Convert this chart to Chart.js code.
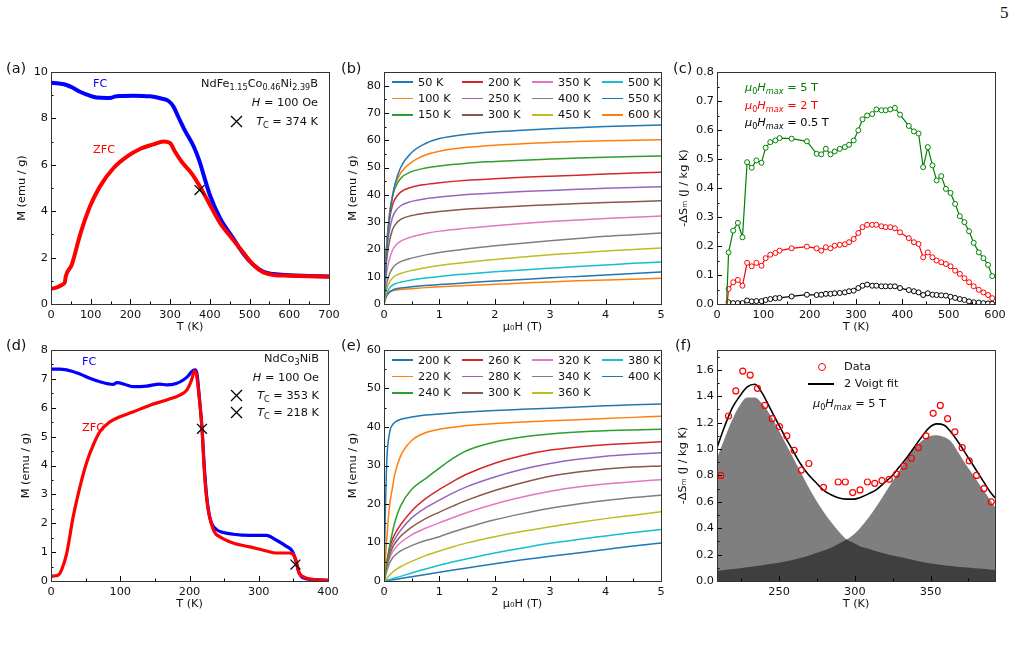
<!DOCTYPE html>
<html>
<head>
<meta charset="utf-8">
<script src="https://cdn.jsdelivr.net/npm/chart.js@4.4.1/dist/chart.umd.min.js"></script>
<style>
body { margin:0; background:#fff; width:1020px; height:650px; position:relative; overflow:hidden; font-family:'DejaVu Sans', sans-serif; color:#111; }
canvas { position:absolute; }
.t { position:absolute; font-size:11.3px; white-space:nowrap; line-height:1; transform:translateY(-50%); }
.r { text-align:right; }
.p { font-size:14.5px; }
sub { font-size:72%; vertical-align:-0.3em; line-height:0; }
.x { position:absolute; width:13px; height:13px; }
.leg { position:absolute; display:grid; grid-auto-flow:column; grid-template-rows:repeat(3,16.4px); grid-auto-columns:70px; font-size:11.3px; }
.li { display:flex; align-items:center; white-space:nowrap; }
.li span { display:inline-block; width:21px; height:1.6px; margin-right:5px; }
</style>
</head>
<body>
<canvas id="ca"></canvas><canvas id="cb"></canvas><canvas id="cc"></canvas>
<canvas id="cd"></canvas><canvas id="ce"></canvas><canvas id="cf"></canvas>

<div class="t" style="left:1000px;top:12px;font-family:'Liberation Serif',serif;font-size:17px">5</div>

<div class="t p" style="left:6px;top:68px">(a)</div>
<div class="t p" style="left:341px;top:68px">(b)</div>
<div class="t p" style="left:673px;top:68px">(c)</div>
<div class="t p" style="left:6px;top:345px">(d)</div>
<div class="t p" style="left:341px;top:345px">(e)</div>
<div class="t p" style="left:675px;top:345px">(f)</div>

<!-- (a) notes -->
<div class="t" style="left:93px;top:84px;color:blue">FC</div>
<div class="t" style="left:93px;top:150px;color:red">ZFC</div>
<div class="t r" style="right:702px;top:84px">NdFe<sub>1.15</sub>Co<sub>0.46</sub>Ni<sub>2.39</sub>B</div>
<div class="t r" style="right:702px;top:103px"><i>H</i> = 100 Oe</div>
<div class="t r" style="right:702px;top:122px"><i>T</i><sub>C</sub> = 374 K</div>
<svg class="x" style="left:230px;top:115px" viewBox="0 0 13 13"><path d="M1 1L12 12M12 1L1 12" stroke="#000" stroke-width="1.3"/></svg>

<!-- (c) notes -->
<div class="t" style="left:745px;top:88px;color:green"><i>μ</i><sub>0</sub><i>H</i><sub><i>max</i></sub> = 5 T</div>
<div class="t" style="left:745px;top:106px;color:red"><i>μ</i><sub>0</sub><i>H</i><sub><i>max</i></sub> = 2 T</div>
<div class="t" style="left:745px;top:123px;color:#000"><i>μ</i><sub>0</sub><i>H</i><sub><i>max</i></sub> = 0.5 T</div>

<!-- (d) notes -->
<div class="t" style="left:82px;top:362px;color:blue">FC</div>
<div class="t" style="left:82px;top:428px;color:red">ZFC</div>
<div class="t r" style="right:701px;top:359px">NdCo<sub>3</sub>NiB</div>
<div class="t r" style="right:701px;top:378px"><i>H</i> = 100 Oe</div>
<div class="t r" style="right:701px;top:396px"><i>T</i><sub>C</sub> = 353 K</div>
<div class="t r" style="right:701px;top:413px"><i>T</i><sub>C</sub> = 218 K</div>
<svg class="x" style="left:230px;top:389px" viewBox="0 0 13 13"><path d="M1 1L12 12M12 1L1 12" stroke="#000" stroke-width="1.3"/></svg>
<svg class="x" style="left:230px;top:406px" viewBox="0 0 13 13"><path d="M1 1L12 12M12 1L1 12" stroke="#000" stroke-width="1.3"/></svg>

<!-- (f) legend -->
<div style="position:absolute;left:818px;top:363px;width:6px;height:6px;border:1.3px solid red;border-radius:50%"></div>
<div class="t" style="left:844px;top:367px">Data</div>
<div style="position:absolute;left:808px;top:383px;width:26px;height:1.6px;background:#000"></div>
<div class="t" style="left:844px;top:384px">2 Voigt fit</div>
<div class="t" style="left:813px;top:404px"><i>μ</i><sub>0</sub><i>H</i><sub><i>max</i></sub> = 5 T</div>

<div class="leg" id="legb" style="left:392px;top:74px"></div>
<div class="leg" id="lege" style="left:392px;top:352px"></div>

<script>
// ---- (a) NdFe1.15Co0.46Ni2.39B, M(T) at 100 Oe
const aTempFC = [0, 20, 39, 55, 73, 98, 115, 140, 152, 162, 175, 207, 249, 275, 296, 308, 321, 338, 359, 374, 384, 400, 426, 459, 484, 510, 535, 560, 600, 650, 700];
const aMagFC = [9.54, 9.5, 9.44, 9.32, 9.15, 8.98, 8.9, 8.88, 8.89, 8.95, 8.97, 8.98, 8.95, 8.87, 8.75, 8.52, 8.05, 7.45, 6.8, 6.15, 5.58, 4.7, 3.69, 2.83, 2.18, 1.68, 1.39, 1.29, 1.24, 1.21, 1.18];
const aTempZFC = [0, 15, 27, 35, 37, 52, 73, 98, 123, 157, 191, 224, 258, 283, 300, 312, 329, 354, 375, 396, 426, 459, 489, 510, 535, 560, 600, 650, 700];
const aMagZFC = [0.65, 0.72, 0.82, 0.95, 1.18, 1.68, 2.97, 4.2, 5.06, 5.85, 6.35, 6.68, 6.88, 7.0, 6.93, 6.57, 6.13, 5.63, 5.06, 4.41, 3.48, 2.76, 2.11, 1.68, 1.36, 1.25, 1.22, 1.2, 1.17];
const aTcT = [374];
const aTcM = [4.91];
const aTicksX = [0, 100, 200, 300, 400, 500, 600, 700];
const aTicksY = [0, 2, 4, 6, 8, 10];

// ---- (b) M(H) isotherms
const bField = [0, 0.02, 0.05, 0.1, 0.15, 0.2, 0.3, 0.5, 0.75, 1, 1.5, 2, 2.5, 3, 3.5, 4, 4.5, 5];
const bLabels = ['50 K', '100 K', '150 K', '200 K', '250 K', '300 K', '350 K', '400 K', '450 K', '500 K', '550 K', '600 K'];
const b50 = [0, 8, 20, 32, 39, 44, 50, 55.5, 58.8, 60.6, 62.2, 63.1, 63.7, 64.2, 64.6, 65, 65.3, 65.6];
const b100 = [0, 9, 21, 33, 39.5, 43.5, 48, 52, 54.6, 56, 57.4, 58.2, 58.7, 59.2, 59.5, 59.8, 60, 60.2];
const b150 = [0, 10, 22, 33, 39, 42.5, 46, 48.5, 49.8, 50.6, 51.6, 52.2, 52.7, 53.1, 53.5, 53.8, 54, 54.2];
const b200 = [0, 10, 22, 31, 36, 38.5, 41, 42.8, 43.8, 44.4, 45.3, 45.9, 46.4, 46.8, 47.2, 47.6, 48, 48.3];
const b250 = [0, 9, 19.5, 27, 31.5, 33.8, 36, 37.6, 38.6, 39.2, 40.1, 40.7, 41.2, 41.6, 42, 42.4, 42.7, 43];
const b300 = [0, 8, 16.5, 23, 27, 29, 31, 32.4, 33.3, 33.9, 34.8, 35.4, 35.9, 36.4, 36.8, 37.2, 37.5, 37.8];
const b350 = [0, 5.5, 11.5, 16.5, 19.5, 21.2, 23, 24.6, 25.8, 26.7, 27.8, 28.7, 29.5, 30.2, 30.8, 31.3, 31.8, 32.2];
const b400 = [0, 3.5, 7.5, 11, 13, 14.2, 15.5, 16.8, 18, 18.9, 20.2, 21.3, 22.3, 23.2, 24, 24.8, 25.4, 26];
const b450 = [0, 2.5, 5.5, 8, 9.4, 10.3, 11.2, 12.3, 13.3, 14.1, 15.3, 16.3, 17.2, 18, 18.7, 19.4, 20, 20.5];
const b500 = [0, 2, 4, 5.8, 6.8, 7.4, 8, 8.8, 9.5, 10.1, 11, 11.8, 12.5, 13.1, 13.7, 14.3, 14.9, 15.4];
const b550 = [0, 1.5, 3.2, 4.5, 5.1, 5.5, 5.9, 6.3, 6.8, 7.1, 7.8, 8.4, 9, 9.6, 10.1, 10.6, 11.2, 11.7];
const b600 = [0, 1.4, 3, 4.2, 4.7, 5, 5.3, 5.6, 6, 6.3, 6.8, 7.2, 7.7, 8.1, 8.5, 8.8, 9.1, 9.4];
const bTicksX = [0, 1, 2, 3, 4, 5];
const bTicksY = [0, 10, 20, 30, 40, 50, 60, 70, 80];

// ---- (c) -dS_m(T) for three field changes
const cTemp = [20, 25, 35, 45, 55, 65, 75, 85, 96, 105, 115, 126, 135, 161, 194, 215, 225, 235, 245, 254, 265, 276, 285, 295, 305, 314, 324, 335, 344, 355, 364, 374, 384, 395, 414, 425, 435, 445, 455, 465, 474, 484, 494, 504, 514, 524, 534, 544, 554, 565, 575, 585, 594];
const cS5T = [-0.03, 0.178, 0.253, 0.28, 0.23, 0.489, 0.47, 0.495, 0.487, 0.539, 0.558, 0.564, 0.572, 0.570, 0.561, 0.518, 0.516, 0.535, 0.516, 0.526, 0.535, 0.541, 0.549, 0.564, 0.599, 0.637, 0.650, 0.655, 0.671, 0.668, 0.668, 0.671, 0.676, 0.653, 0.614, 0.595, 0.588, 0.472, 0.541, 0.478, 0.426, 0.441, 0.397, 0.383, 0.345, 0.303, 0.282, 0.251, 0.211, 0.178, 0.158, 0.135, 0.096];
const cS2T = [-0.03, 0.052, 0.075, 0.083, 0.063, 0.142, 0.13, 0.142, 0.132, 0.158, 0.170, 0.176, 0.184, 0.192, 0.198, 0.192, 0.184, 0.196, 0.192, 0.201, 0.204, 0.206, 0.213, 0.224, 0.245, 0.265, 0.273, 0.273, 0.273, 0.268, 0.265, 0.265, 0.261, 0.247, 0.227, 0.213, 0.207, 0.161, 0.178, 0.161, 0.150, 0.144, 0.138, 0.130, 0.115, 0.104, 0.089, 0.075, 0.061, 0.049, 0.040, 0.031, 0.020];
const cS05T = [-0.03, 0.006, 0.003, 0.003, 0.003, 0.012, 0.009, 0.010, 0.010, 0.014, 0.017, 0.020, 0.021, 0.026, 0.032, 0.031, 0.032, 0.035, 0.035, 0.037, 0.038, 0.040, 0.044, 0.046, 0.055, 0.063, 0.067, 0.063, 0.063, 0.061, 0.061, 0.061, 0.061, 0.055, 0.048, 0.044, 0.040, 0.031, 0.037, 0.032, 0.031, 0.030, 0.029, 0.025, 0.021, 0.017, 0.014, 0.009, 0.006, 0.005, 0.003, 0.002, 0.001];
const cTicksX = [0, 100, 200, 300, 400, 500, 600];
const cTicksY = [0, 0.1, 0.2, 0.3, 0.4, 0.5, 0.6, 0.7, 0.8];

// ---- (d) NdCo3NiB, M(T) at 100 Oe
const dTempFC = [0, 12, 22.6, 41.8, 56, 70.7, 90, 95, 109, 119, 138, 157, 167, 181, 191, 198, 203, 208, 211, 214, 218, 221, 224.5, 228, 232, 239, 249, 263, 287, 311, 325, 340, 348, 353, 358, 365, 380, 400];
const dMagFC = [7.34, 7.34, 7.31, 7.17, 7.02, 6.90, 6.81, 6.87, 6.79, 6.73, 6.75, 6.82, 6.79, 6.84, 6.96, 7.10, 7.25, 7.31, 7.15, 6.4, 5.3, 4.1, 3.0, 2.35, 2.0, 1.78, 1.68, 1.62, 1.58, 1.58, 1.42, 1.2, 1.05, 0.75, 0.3, 0.1, 0.05, 0.02];
const dTempZFC = [0, 5, 10, 15, 22.6, 32, 41.8, 51, 61, 70.7, 85, 99.5, 119, 143, 167, 186, 196, 203, 207, 210, 214, 218.3, 220.7, 224.5, 229, 236, 244, 263, 287, 311, 325, 345, 351, 355, 358, 364, 376, 400];
const dMagZFC = [0.16, 0.18, 0.2, 0.37, 0.95, 2.22, 3.26, 4.07, 4.71, 5.17, 5.51, 5.69, 5.86, 6.09, 6.27, 6.44, 6.61, 6.96, 7.27, 7.15, 6.38, 5.23, 4.07, 2.91, 2.22, 1.7, 1.53, 1.32, 1.18, 1.04, 0.97, 0.97, 0.88, 0.6, 0.3, 0.15, 0.06, 0.02];
const dTcT = [218, 353];
const dTcM = [5.27, 0.57];
const dTicksX = [0, 100, 200, 300, 400];
const dTicksY = [0, 1, 2, 3, 4, 5, 6, 7, 8];

// ---- (e) M(H) isotherms
const eField = [0, 0.02, 0.05, 0.1, 0.15, 0.2, 0.3, 0.5, 0.75, 1, 1.25, 1.5, 2, 2.5, 3, 3.5, 4, 4.5, 5];
const eLabels = ['200 K', '220 K', '240 K', '260 K', '280 K', '300 K', '320 K', '340 K', '360 K', '380 K', '400 K'];
const e200 = [0, 15, 31, 38.5, 40.5, 41.3, 42, 42.6, 43.1, 43.4, 43.65, 43.9, 44.3, 44.6, 44.9, 45.2, 45.5, 45.8, 46];
const e220 = [0, 4.5, 11, 19.5, 24, 28, 32.5, 36.5, 38.5, 39.4, 39.95, 40.4, 40.9, 41.3, 41.6, 41.9, 42.2, 42.5, 42.8];
const e240 = [0, 1.5, 4.5, 9, 12.5, 15.5, 19.5, 23.8, 26.6, 29.3, 31.9, 33.9, 36.1, 37.4, 38.2, 38.7, 39.05, 39.25, 39.4];
const e260 = [0, 2, 5, 8.5, 10.8, 12.3, 14.6, 18.2, 21.4, 23.8, 25.9, 27.8, 30.6, 32.6, 34, 34.8, 35.4, 35.8, 36.2];
const e280 = [0, 1.7, 4.4, 7.6, 9.6, 11, 13.2, 16.4, 19, 21, 22.9, 24.5, 27, 29, 30.5, 31.6, 32.4, 32.9, 33.3];
const e300 = [0, 1.5, 3.9, 6.7, 8.6, 9.8, 11.6, 14, 16.2, 17.9, 19.5, 21, 23.5, 25.5, 27.2, 28.3, 29.1, 29.6, 29.9];
const e320 = [0, 1.3, 3.4, 5.9, 7.5, 8.5, 10, 12, 13.7, 15.1, 16.5, 17.8, 20, 21.8, 23.3, 24.4, 25.2, 25.8, 26.3];
const e340 = [0, 1, 2.6, 4.6, 5.9, 6.7, 7.8, 9.2, 10.5, 11.5, 12.8, 13.9, 15.9, 17.5, 18.9, 20, 20.9, 21.7, 22.3];
const e360 = [0, 0.3, 0.7, 1.5, 2.2, 2.8, 3.7, 5.1, 6.6, 7.8, 8.9, 9.9, 11.5, 12.9, 14.1, 15.2, 16.2, 17.1, 18];
const e380 = [0, 0.1, 0.2, 0.4, 0.6, 0.8, 1.2, 2.1, 3.1, 4.1, 5.0, 5.8, 7.3, 8.6, 9.8, 10.8, 11.7, 12.6, 13.4];
const e400 = [0, 0.05, 0.1, 0.2, 0.3, 0.4, 0.65, 1.1, 1.7, 2.3, 2.85, 3.4, 4.5, 5.5, 6.4, 7.3, 8.2, 9.1, 9.9];
const eTicksX = [0, 1, 2, 3, 4, 5];
const eTicksY = [0, 10, 20, 30, 40, 50, 60];

// ---- (f) -dS_m(T) at 5 T with 2-Voigt fit
const fTempData = [211.5, 216.6, 221.4, 226, 230.9, 235.7, 240.5, 245.4, 250.2, 255.1, 259.9, 264.7, 269.6, 279.3, 289, 293.7, 298.6, 303.4, 308.3, 313.1, 317.9, 322.7, 327.5, 332.4, 337.3, 342, 346.9, 351.7, 356.4, 361.2, 366, 370.8, 375.5, 380.3, 385.2, 390];
const fData = [0.80, 1.25, 1.44, 1.59, 1.56, 1.46, 1.33, 1.23, 1.17, 1.10, 0.99, 0.84, 0.89, 0.71, 0.75, 0.75, 0.67, 0.69, 0.75, 0.74, 0.76, 0.77, 0.81, 0.87, 0.93, 1.01, 1.10, 1.27, 1.33, 1.23, 1.13, 1.01, 0.91, 0.80, 0.70, 0.60];
const fTempFit = [209, 214, 219, 224, 229, 234, 239, 244, 249, 254, 259, 264, 269, 274, 279, 284, 289, 294, 299, 304, 309, 314, 319, 324, 329, 334, 339, 344, 349, 354, 359, 364, 369, 374, 379, 384, 389, 392.5];
const fFit = [1.01, 1.17, 1.31, 1.40, 1.47, 1.49, 1.42, 1.31, 1.20, 1.09, 0.99, 0.89, 0.81, 0.75, 0.69, 0.655, 0.63, 0.62, 0.62, 0.635, 0.66, 0.69, 0.74, 0.79, 0.86, 0.93, 1.01, 1.09, 1.16, 1.19, 1.18, 1.12, 1.04, 0.95, 0.86, 0.77, 0.68, 0.63];
const fPeak1 = [0.93, 1.08, 1.22, 1.33, 1.39, 1.39, 1.34, 1.26, 1.16, 1.05, 0.94, 0.83, 0.72, 0.62, 0.53, 0.45, 0.38, 0.32, 0.29, 0.26, 0.245, 0.225, 0.21, 0.195, 0.183, 0.17, 0.158, 0.146, 0.135, 0.127, 0.12, 0.113, 0.107, 0.102, 0.097, 0.092, 0.087, 0.084];
const fPeak2 = [0.078, 0.084, 0.09, 0.097, 0.104, 0.112, 0.12, 0.128, 0.137, 0.148, 0.16, 0.175, 0.19, 0.21, 0.23, 0.25, 0.28, 0.31, 0.35, 0.41, 0.48, 0.56, 0.65, 0.74, 0.83, 0.92, 1.0, 1.06, 1.095, 1.105, 1.09, 1.05, 0.96, 0.87, 0.79, 0.70, 0.62, 0.56];
const fTicksX = [250, 300, 350];
const fTicksY = [0, 0.2, 0.4, 0.6, 0.8, 1.0, 1.2, 1.4, 1.6];

const tab10 = ['#1f77b4', '#ff7f0e', '#2ca02c', '#d62728', '#9467bd', '#8c564b', '#e377c2', '#7f7f7f', '#bcbd22', '#17becf', '#1f77b4', '#ff7f0e'];

Chart.defaults.font.family = "'DejaVu Sans', sans-serif";
Chart.defaults.font.size = 11.3;
Chart.defaults.color = '#111';

const pts = (xs, ys) => xs.map((x, i) => ({x: x, y: ys[i]}));

function minorOf(ticks, min, max) {
    let half = (ticks[1] - ticks[0]) / 2;
    let out = [];
    ticks.forEach(v => {
        [v - half, v + half].forEach(m => {
            if (m >= min - 1e-9 && m <= max + 1e-9 && !out.some(o => Math.abs(o - m) < 1e-9)) out.push(m);
        });
    });
    return out;
}

// frame on all four sides + inward ticks, like the original figure
const frame = {
    id: 'frame',
    afterDraw(chart) {
        const {ctx, chartArea: a, scales: {x, y}} = chart;
        const o = chart.options.plugins.frame;
        ctx.save();
        ctx.strokeStyle = '#000';
        ctx.lineWidth = 1;
        ctx.beginPath();
        o.xt.forEach(v => { let p = Math.round(x.getPixelForValue(v)) + 0.5; ctx.moveTo(p, a.bottom); ctx.lineTo(p, a.bottom - 5); });
        minorOf(o.xt, x.min, x.max).forEach(v => { let p = Math.round(x.getPixelForValue(v)) + 0.5; ctx.moveTo(p, a.bottom); ctx.lineTo(p, a.bottom - 2.5); });
        o.yt.forEach(v => { let p = Math.round(y.getPixelForValue(v)) + 0.5; ctx.moveTo(a.left, p); ctx.lineTo(a.left + 5, p); });
        minorOf(o.yt, y.min, y.max).forEach(v => { let p = Math.round(y.getPixelForValue(v)) + 0.5; ctx.moveTo(a.left, p); ctx.lineTo(a.left + 2.5, p); });
        ctx.stroke();
        ctx.strokeStyle = '#333';
        ctx.strokeRect(Math.round(a.left) + 0.5, Math.round(a.top) + 0.5, Math.round(a.right - a.left), Math.round(a.bottom - a.top));
        ctx.restore();
    }
};

function makeChart(id, box, datasets, ax) {
    let cv = document.getElementById(id);
    cv.width = box.R - box.L + 70;
    cv.height = box.B - box.T + 52;
    cv.style.left = (box.L - 50) + 'px';
    cv.style.top = (box.T - 12) + 'px';
    return new Chart(cv, {
        type: 'line',
        data: { datasets: datasets },
        plugins: [frame],
        options: {
            responsive: false,
            animation: false,
            devicePixelRatio: 1,
            layout: { padding: { left: 0, top: 12, right: 20, bottom: 0 } },
            plugins: { legend: { display: false }, tooltip: { enabled: false }, frame: { xt: ax.xt, yt: ax.yt } },
            elements: { point: { radius: 0 } },
            scales: {
                x: {
                    type: 'linear', min: ax.xmin, max: ax.xmax,
                    grid: { display: false, drawTicks: false }, border: { display: false },
                    afterBuildTicks: s => { s.ticks = ax.xt.map(v => ({value: v})); },
                    afterFit: s => { s.height = 40; },
                    ticks: { padding: 4, maxRotation: 0, autoSkip: false, callback: v => v.toFixed(ax.xd) },
                    title: { display: true, text: ax.xl, padding: { top: 0, bottom: 9.7 } }
                },
                y: {
                    type: 'linear', min: ax.ymin, max: ax.ymax,
                    grid: { display: false, drawTicks: false }, border: { display: false },
                    afterBuildTicks: s => { s.ticks = ax.yt.map(v => ({value: v})); },
                    afterFit: s => { s.width = 50; },
                    ticks: { padding: 3, autoSkip: false, callback: v => v.toFixed(ax.yd) },
                    title: { display: true, text: ax.yl, padding: { top: ax.ytp, bottom: 0 } }
                }
            }
        }
    });
}

const curve = (xs, ys, color, w, order) => ({
    data: pts(xs, ys), borderColor: color, backgroundColor: color, borderWidth: w,
    pointRadius: 0, cubicInterpolationMode: 'monotone', fill: false, order: order
});
const crosses = (xs, ys) => ({
    data: pts(xs, ys), showLine: false, pointStyle: 'crossRot', pointRadius: 7,
    pointBorderColor: '#000', pointBorderWidth: 1.3, order: 0
});
const circles = (xs, ys, color, order) => ({
    data: pts(xs, ys), borderColor: color, borderWidth: 1.2, tension: 0,
    pointStyle: 'circle', pointRadius: 2.5, pointBorderWidth: 1,
    pointBorderColor: color, pointBackgroundColor: '#fff', order: order
});

// (a)
makeChart('ca', {L: 51, R: 329, T: 72, B: 304}, [
    crosses(aTcT, aTcM),
    curve(aTempZFC, aMagZFC, 'red', 4, 1),
    curve(aTempFC, aMagFC, 'blue', 4, 2)
], {xmin: 0, xmax: 700, xt: aTicksX, xd: 0, xl: 'T (K)', ymin: 0, ymax: 10, yt: aTicksY, yd: 0, yl: 'M (emu / g)', ytp: 13.9});

// (b)
const bSeries = [b50, b100, b150, b200, b250, b300, b350, b400, b450, b500, b550, b600];
makeChart('cb', {L: 384, R: 661, T: 72, B: 304},
    bSeries.map((s, i) => curve(bField, s, tab10[i], 1.5, i)),
    {xmin: 0, xmax: 5, xt: bTicksX, xd: 0, xl: 'μ₀H (T)', ymin: 0, ymax: 85, yt: bTicksY, yd: 0, yl: 'M (emu / g)', ytp: 12.2});

// (c)
makeChart('cc', {L: 717, R: 995, T: 72, B: 304}, [
    circles(cTemp, cS05T, '#000', 2),
    circles(cTemp, cS2T, 'red', 1),
    circles(cTemp, cS5T, 'green', 0)
], {xmin: 0, xmax: 600, xt: cTicksX, xd: 0, xl: 'T (K)', ymin: 0, ymax: 0.8, yt: cTicksY, yd: 1, yl: '-ΔSₘ (J / kg K)', ytp: 10.2});

// (d)
makeChart('cd', {L: 51, R: 328, T: 350, B: 581}, [
    crosses(dTcT, dTcM),
    curve(dTempZFC, dMagZFC, 'red', 3.2, 1),
    curve(dTempFC, dMagFC, 'blue', 3.2, 2)
], {xmin: 0, xmax: 400, xt: dTicksX, xd: 0, xl: 'T (K)', ymin: 0, ymax: 8, yt: dTicksY, yd: 0, yl: 'M (emu / g)', ytp: 18.2});

// (e)
const eSeries = [e200, e220, e240, e260, e280, e300, e320, e340, e360, e380, e400];
makeChart('ce', {L: 384, R: 661, T: 350, B: 581},
    eSeries.map((s, i) => curve(eField, s, tab10[i], 1.5, i)),
    {xmin: 0, xmax: 5, xt: eTicksX, xd: 0, xl: 'μ₀H (T)', ymin: 0, ymax: 60, yt: eTicksY, yd: 0, yl: 'M (emu / g)', ytp: 12.2});

// (f)
makeChart('cf', {L: 717, R: 995, T: 350, B: 581}, [
    {data: pts(fTempData, fData), showLine: false, pointStyle: 'circle', pointRadius: 3,
     pointBorderColor: 'red', pointBorderWidth: 1.2, pointBackgroundColor: 'rgba(0,0,0,0)', order: 0},
    curve(fTempFit, fFit, '#000', 1.6, 1),
    {data: pts(fTempFit, fPeak1), borderWidth: 0, pointRadius: 0, fill: 'origin',
     backgroundColor: 'rgba(0,0,0,0.5)', cubicInterpolationMode: 'monotone', order: 2},
    {data: pts(fTempFit, fPeak2), borderWidth: 0, pointRadius: 0, fill: 'origin',
     backgroundColor: 'rgba(0,0,0,0.5)', cubicInterpolationMode: 'monotone', order: 3}
], {xmin: 209, xmax: 392.5, xt: fTicksX, xd: 0, xl: 'T (K)', ymin: 0, ymax: 1.75, yt: fTicksY, yd: 1, yl: '-ΔSₘ (J / kg K)', ytp: 9.2});

// HTML legends for (b) and (e), column-major like the original
function buildLegend(el, labels) {
    labels.forEach((lab, i) => {
        let d = document.createElement('div');
        d.className = 'li';
        d.innerHTML = '<span style="background:' + tab10[i] + '"></span>' + lab;
        el.appendChild(d);
    });
}
buildLegend(document.getElementById('legb'), bLabels);
buildLegend(document.getElementById('lege'), eLabels);
</script>
</body>
</html>
